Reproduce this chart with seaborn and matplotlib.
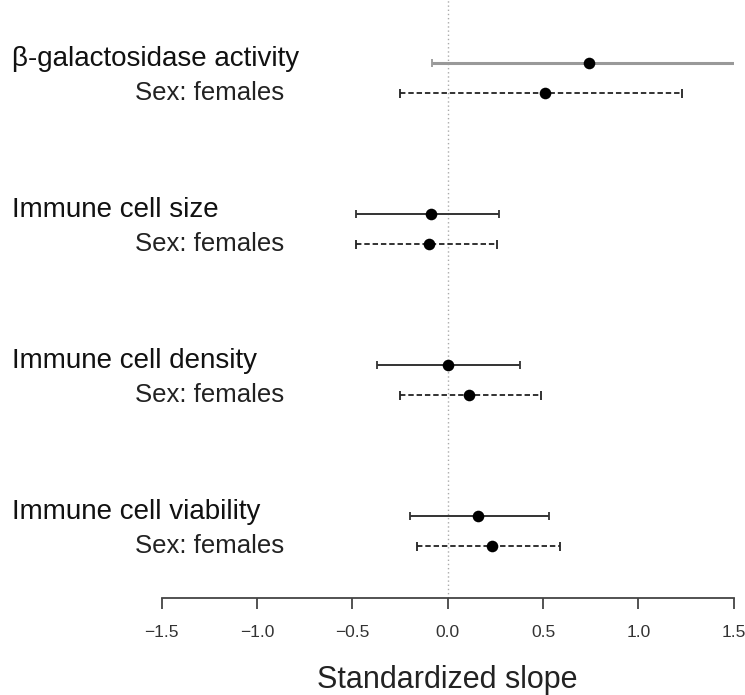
import numpy as np
import pandas as pd
import matplotlib
matplotlib.use("Agg")
import matplotlib.pyplot as plt
import seaborn as sns

# values (standardized slope, 95% interval)
traits = ["β-galactosidase activity", "Immune cell size",
          "Immune cell density", "Immune cell viability"]
subgroup = "Sex: females"

all_est = [0.74, -0.09, 0.00, 0.16]
all_lo = [-0.08, -0.48, -0.37, -0.20]
all_hi = [1.52, 0.27, 0.38, 0.53]

fem_est = [0.51, -0.10, 0.11, 0.23]
fem_lo = [-0.25, -0.48, -0.25, -0.16]
fem_hi = [1.23, 0.26, 0.49, 0.59]

xticks = [-1.5, -1.0, -0.5, 0.0, 0.5, 1.0, 1.5]

rows = []
for i, t in enumerate(traits):
    rows.append(dict(trait=t, group="all", pos=i * 5, est=all_est[i], lo=all_lo[i], hi=all_hi[i]))
    rows.append(dict(trait=t, group="females", pos=i * 5 + 1, est=fem_est[i], lo=fem_lo[i], hi=fem_hi[i]))
df = pd.DataFrame(rows)

sns.set_style("white")
plt.rcParams['font.family'] = ['Liberation Sans', 'DejaVu Sans']

fig = plt.figure(figsize=(7.45, 6.95), dpi=100)
ax = fig.add_axes([0.217, 0.14, 0.768, 0.86])

# zero reference line
ax.axvline(0, color="#aaaaaa", lw=1, ls=(0, (1, 2)), zorder=0)

cap = 0.14
for _, r in df.iterrows():
    if r.group == "all":
        col = "#999999" if r.pos == 0 else "#333333"
        lw = 2.2 if r.pos == 0 else 1.4
        ls = "-"
    else:
        col, lw, ls = "#222222", 1.3, (0, (3, 1.6))
    ax.hlines(r.pos, r.lo, r.hi, colors=col, linewidth=lw, linestyles=ls, zorder=1)
    ax.vlines([r.lo, r.hi], r.pos - cap, r.pos + cap, colors=col, linewidth=1.3, zorder=1)

sns.scatterplot(data=df, x="est", y="pos", ax=ax, color="black", s=70,
                edgecolor="black", linewidth=0, zorder=3, legend=False)

# row labels on the left
for _, r in df.iterrows():
    if r.group == "all":
        ax.text(-0.262, r.pos - 0.15, r.trait, transform=ax.get_yaxis_transform(),
                ha="left", va="center", fontsize=20, color="#111111")
    else:
        ax.text(-0.047, r.pos, subgroup, transform=ax.get_yaxis_transform(),
                ha="left", va="center", fontsize=18.5, color="#222222")

ax.set_xlim(-1.5, 1.5)
ax.set_ylim(17.7, -2.09)
ax.set_yticks([])
ax.set_xticks(xticks)
ax.set_xticklabels([f"{v:.1f}".replace("-", "\u2212") for v in xticks], fontsize=12.5, color="#333333")
ax.tick_params(axis="x", direction="out", length=8, width=1.3, color="#444444", pad=12, bottom=True)
ax.set_xlabel("Standardized slope", fontsize=22, labelpad=18, color="#222222")
ax.set_ylabel("")

for s in ["top", "left", "right"]:
    ax.spines[s].set_visible(False)
ax.spines["bottom"].set_bounds(-1.5, 1.5)
ax.spines["bottom"].set_color("#444444")
ax.spines["bottom"].set_linewidth(1.3)

fig.savefig("out.png", dpi=100)
